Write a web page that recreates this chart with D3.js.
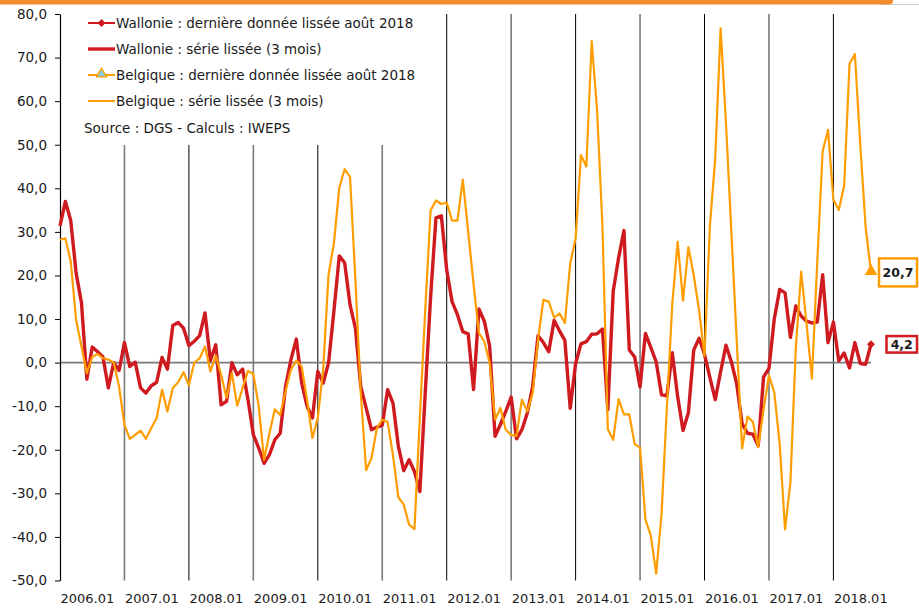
<!DOCTYPE html>
<html>
<head>
  <meta charset="UTF-8">
  <title>Wallonie / Belgique - série lissée</title>
  <style>
    body { margin: 0; background: #fff; }
    #chart text { font-family: "DejaVu Sans", sans-serif; fill: #1a1a1a; }
    .tick line { stroke: #000; }
  </style>
</head>
<body>
  <div id="chart"></div>

  <script src="https://d3js.org/d3.v7.min.js"></script>
  <script>
    // months 2006.01 -> 2018.08
    const categories = d3.timeMonth
      .range(new Date(2006, 0, 1), new Date(2018, 8, 1))
      .map(d3.timeFormat("%Y.%m"));

    const wallonie = [
      31.4, 37.0, 32.6, 20.6, 13.7, -3.8, 3.6, 2.5, 1.3, -5.8, 0.0, -1.8,
      4.6, -0.9, 0.1, -5.8, -7.0, -5.3, -4.5, 1.2, -1.5, 8.5, 9.2, 7.9,
      3.9, 4.9, 6.2, 11.4, 0.5, 4.1, -9.7, -8.9, 0.0, -2.8, -1.5, -8.5,
      -16.5, -19.6, -23.1, -21.1, -17.7, -16.2, -5.5, 0.7, 5.4, -4.7, -10.0, -12.7,
      -2.0, -4.7, -0.1, 11.8, 24.5, 22.9, 13.3, 7.9, -5.5, -10.4, -15.4, -14.8,
      -14.4, -6.2, -9.3, -19.2, -24.8, -22.3, -25.0, -29.6, -7.0, 15.0, 33.2, 33.7,
      21.3, 14.0, 11.0, 7.1, 6.6, -6.2, 12.3, 9.5, 3.8, -16.9, -14.2, -11.2,
      -7.9, -17.5, -15.4, -11.6, -5.5, 6.2, 4.6, 2.5, 9.7, 7.3, 5.1, -10.5,
      -0.2, 4.3, 4.8, 6.5, 6.6, 7.7, -10.8, 16.4, 24.0, 30.3, 2.9, 1.3,
      -5.6, 6.7, 3.5, 0.2, -7.4, -7.6, 2.3, -7.8, -15.6, -11.5, 2.9, 5.6,
      1.9, -3.4, -8.5, -2.1, 4.0, 0.2, -4.9, -14.0, -16.2, -16.4, -19.1, -3.3,
      -1.3, 10.1, 16.8, 16.0, 5.8, 13.0, 10.7, 9.5, 9.1, 9.3, 20.2, 4.6,
      9.3, 0.4, 2.2, -1.2, 4.6, -0.2, -0.4, 4.2
    ];

    const belgique = [
      28.2, 28.5, 23.2, 9.8, 3.7, -2.4, 1.3, 2.0, 1.0, 0.7, 0.0, -5.5,
      -14.3, -17.5, -16.6, -15.6, -17.5, -15.0, -12.7, -6.2, -11.2, -5.8, -4.5, -2.2,
      -5.2, 0.0, 1.0, 3.7, -2.0, 1.6, -2.8, -8.1, -2.4, -9.9, -5.8, -1.9,
      -2.6, -10.0, -22.3, -16.2, -10.7, -12.0, -6.6, -1.6, 0.5, -0.9, -8.5, -17.3,
      -12.7, -1.6, 20.2, 27.4, 40.1, 44.4, 42.6, 19.0, -7.0, -24.7, -21.9, -15.0,
      -13.1, -13.6, -21.3, -30.9, -32.6, -37.2, -38.2, -12.5, 12.0, 34.9, 37.2, 36.4,
      36.7, 32.6, 32.6, 42.0, 30.0, 18.0, 6.8, 4.9, -0.1, -13.1, -10.4, -15.4,
      -16.6, -16.8, -8.5, -11.2, -7.0, 5.2, 14.4, 14.0, 10.3, 11.3, 9.1, 22.8,
      28.5, 47.6, 45.0, 73.8, 57.9, 31.3, -15.3, -17.7, -8.4, -11.9, -11.9, -18.7,
      -19.5, -36.0, -39.7, -48.4, -34.8, -10.0, 13.5, 27.7, 14.2, 26.5, 20.0, 11.9,
      1.5, 31.3, 47.0, 76.7, 55.0, 30.0, 5.0, -19.7, -12.4, -13.6, -19.4, -10.8,
      -2.9, -6.9, -18.7, -38.3, -27.4, 3.4, 20.9, 8.9, -3.7, 23.2, 48.5, 53.4,
      37.4, 35.0, 40.6, 68.6, 70.8, 50.0, 31.1, 20.7
    ];

    const yTicks = [-50, -40, -30, -20, -10, 0, 10, 20, 30, 40, 50, 60, 70, 80];
    const tickLabels = ["2006.01", "2007.01", "2008.01", "2009.01", "2010.01", "2011.01",
      "2012.01", "2013.01", "2014.01", "2015.01", "2016.01", "2017.01", "2018.01"];

    const legendItems = [
      { label: "Wallonie : dernière donnée lissée août 2018", kind: "wal-last" },
      { label: "Wallonie : série lissée (3 mois)", kind: "wal" },
      { label: "Belgique : dernière donnée lissée août 2018", kind: "bel-last" },
      { label: "Belgique : série lissée (3 mois)", kind: "bel" }
    ];

    const RED = "#cf1a20", ORANGE = "#ff9d00";
    const width = 919, height = 609;

    const svg = d3.select("#chart").append("svg")
      .attr("width", width)
      .attr("height", height);

    // orange band at the top
    svg.append("line")
      .attr("x1", 880).attr("x2", width).attr("y1", 4.5).attr("y2", 4.5)
      .attr("stroke", "#cfcfcf").attr("stroke-width", 1.2);
    svg.append("rect")
      .attr("x", -10).attr("y", -5).attr("width", 903).attr("height", 9.5)
      .attr("rx", 4).attr("fill", "#f28b2c");

    const x = d3.scalePoint().domain(categories).range([60, 871]);
    const y = d3.scaleLinear().domain([-50, 80]).range([580.5, 14]);

    const fr = d3.formatLocale({ decimal: ",", thousands: " ", grouping: [3], currency: ["", " €"], minus: "-" });
    const fmt = fr.format(".1f");

    // vertical year lines
    svg.append("g")
      .selectAll("line")
      .data(tickLabels.slice(1))
      .join("line")
      .attr("x1", d => x(d)).attr("x2", d => x(d))
      .attr("y1", y(80)).attr("y2", y(-50))
      .attr("stroke", (d, i) => i % 2 === 0 ? "#7a7a7a" : "#000")
      .attr("stroke-width", (d, i) => i % 2 === 0 ? 1.6 : 1);

    // legend background hides the grid behind it
    svg.append("rect")
      .attr("x", 61).attr("y", 14).attr("width", 381).attr("height", 131)
      .attr("fill", "#fff");

    // zero line
    svg.append("line")
      .attr("x1", x(categories[0])).attr("x2", x(categories[categories.length - 1]))
      .attr("y1", y(0)).attr("y2", y(0))
      .attr("stroke", "#7a7a7a").attr("stroke-width", 1.6);

    // y axis
    const yAxis = svg.append("g")
      .attr("transform", "translate(60,0)")
      .call(d3.axisLeft(y).tickValues(yTicks).tickFormat(fmt).tickSize(5).tickSizeOuter(0).tickPadding(8));
    yAxis.select(".domain").attr("stroke", "#000").attr("stroke-width", 1.2);
    yAxis.selectAll("text").style("font-size", "13.5px");

    // x labels
    const xAxis = svg.append("g")
      .attr("transform", `translate(0,${y(-50)})`)
      .call(d3.axisBottom(x).tickValues(tickLabels).tickSize(0).tickPadding(13));
    xAxis.select(".domain").remove();
    xAxis.selectAll("text")
      .attr("text-anchor", "start")
      .attr("dx", 0)
      .style("font-size", "13px");

    const line = d3.line()
      .x((d, i) => x(categories[i]))
      .y(d => y(d));

    svg.append("path")
      .datum(wallonie)
      .attr("fill", "none")
      .attr("stroke", RED)
      .attr("stroke-width", 3.4)
      .attr("stroke-linejoin", "round")
      .attr("d", line);

    svg.append("path")
      .datum(belgique)
      .attr("fill", "none")
      .attr("stroke", ORANGE)
      .attr("stroke-width", 2.2)
      .attr("stroke-linejoin", "round")
      .attr("d", line);

    const last = categories.length - 1;
    const diamond = d3.symbol().type(d3.symbolDiamond2).size(40);
    const triangle = d3.symbol().type(d3.symbolTriangle).size(70);

    svg.append("path")
      .attr("d", diamond)
      .attr("transform", `translate(${x(categories[last])},${y(wallonie[last])})`)
      .attr("fill", RED);
    svg.append("path")
      .attr("d", triangle)
      .attr("transform", `translate(${x(categories[last])},${y(belgique[last]) - 1})`)
      .attr("fill", ORANGE);

    // value boxes at the end
    const boxes = [
      { v: belgique[last], color: ORANGE, x0: 879, w: 38, h: 28 },
      { v: wallonie[last], color: RED, x0: 886.5, w: 30.5, h: 16.5 }
    ];
    boxes.forEach(b => {
      const cy = y(b.v);
      svg.append("rect")
        .attr("x", b.x0).attr("y", cy - b.h / 2)
        .attr("width", b.w).attr("height", b.h)
        .attr("fill", "#fff").attr("stroke", b.color).attr("stroke-width", 2.5);
      svg.append("text")
        .attr("x", b.x0 + b.w / 2).attr("y", cy + 4.5)
        .attr("text-anchor", "middle")
        .style("font-size", "12.5px")
        .style("font-weight", "bold")
        .text(fmt(b.v));
    });

    // legend
    const lg = svg.append("g");
    const rowY = [23, 49, 75, 101];
    legendItems.forEach((item, i) => {
      const g = lg.append("g").attr("transform", `translate(0,${rowY[i]})`);
      const isRed = item.kind.startsWith("wal");
      g.append("line")
        .attr("x1", 88).attr("x2", 115)
        .attr("stroke", isRed ? RED : ORANGE)
        .attr("stroke-width", item.kind === "wal" ? 3.4 : 2);
      if (item.kind === "wal-last") {
        g.append("path").attr("d", diamond).attr("transform", "translate(101.5,0)").attr("fill", RED);
      }
      if (item.kind === "bel-last") {
        g.append("path").attr("d", d3.symbol().type(d3.symbolTriangle).size(45))
          .attr("transform", "translate(101.5,-1)")
          .attr("fill", "#8ccbd8").attr("stroke", ORANGE).attr("stroke-width", 1.2);
      }
      g.append("text")
        .attr("x", 116).attr("y", 5)
        .style("font-size", "13.5px")
        .text(item.label);
    });
    lg.append("text")
      .attr("x", 84).attr("y", 133)
      .style("font-size", "13.5px")
      .text("Source : DGS - Calculs : IWEPS");
  </script>
</body>
</html>
